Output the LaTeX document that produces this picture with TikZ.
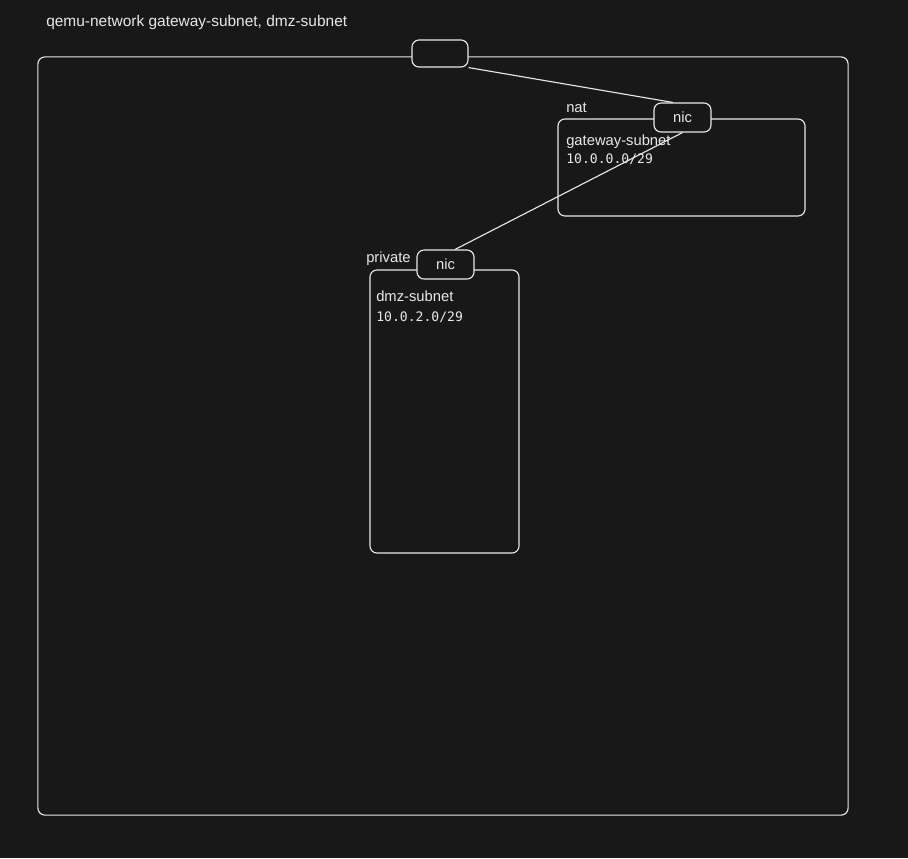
\documentclass[tikz,border=0pt]{standalone}
\usepackage{fontspec}
\setmainfont{Liberation Sans}
\newfontfamily\ipfont{DejaVu Sans Mono}
\definecolor{bgdark}{RGB}{24,24,24}
\definecolor{inkwhite}{RGB}{232,232,232}

\tikzset{
    box/.style={draw=inkwhite, line width=0.8pt, rounded corners=5pt, inner sep=0pt},
    nicbox/.style={box, fill=bgdark, minimum width=1.425cm, minimum height=0.725cm, text=inkwhite, font=\fontsize{10.5}{12}\selectfont},
    lbl/.style={anchor=base west, inner sep=0pt, text=inkwhite, font=\fontsize{10.5}{12}\selectfont},
    ip/.style={lbl, font=\fontsize{9.3}{11}\ipfont},
    wire/.style={draw=inkwhite, line width=0.8pt}
}

\begin{document}
\begin{tikzpicture}[x=0.025cm, y=-0.025cm]
    \fill[bgdark] (0,0) rectangle (908,858);
    \useasboundingbox (0,0) rectangle (908,858);

    % outer network frame
    \node[box, minimum width=20.25cm, minimum height=18.95cm] (qemu) at (443,436) {};
    \node[lbl, font=\fontsize{11}{13}\selectfont] (title) at (46,26.5) {qemu-network gateway-subnet, dmz-subnet};
    \node[box, fill=bgdark, minimum width=1.4cm, minimum height=0.675cm] (uplink) at (440,53.5) {};

    % nat network
    \node[box, minimum width=6.175cm, minimum height=2.425cm] (nat) at (681.5,167.5) {};
    \node[lbl] (natlbl) at (566,112) {nat};
    \node[lbl] (gwname) at (566,145) {gateway-subnet};
    \node[ip] (gwaddr) at (566,163) {10.0.0.0/29};

    % private network
    \node[box, minimum width=3.725cm, minimum height=7.075cm] (private) at (444.5,411.5) {};
    \node[lbl] (privlbl) at (366,262) {private};
    \node[lbl] (dmzname) at (376,301.5) {dmz-subnet};
    \node[ip] (dmzaddr) at (376,321) {10.0.2.0/29};

    % nics
    \node[nicbox] (nicgw) at (682.5,117.5) {nic};
    \node[nicbox] (nicdmz) at (445.5,264.5) {nic};

    % links
    \draw[wire] (uplink.south east) -- ([xshift=-0.24cm]nicgw.north);
    \draw[wire] (nicgw.south) -- ([xshift=0.24cm]nicdmz.north);
\end{tikzpicture}
\end{document}
